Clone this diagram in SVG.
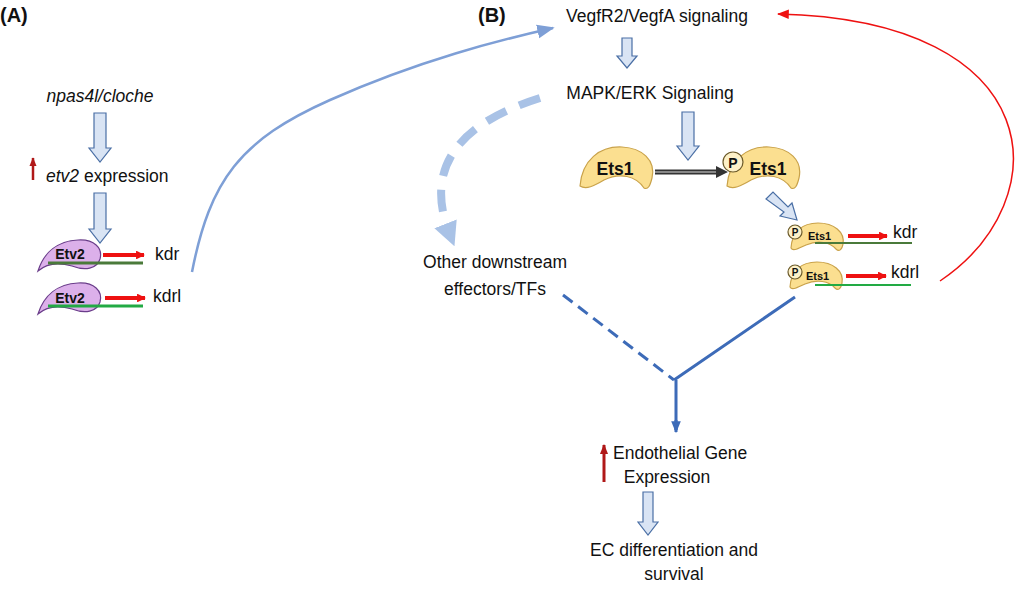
<svg xmlns="http://www.w3.org/2000/svg" width="1031" height="590" viewBox="0 0 1031 590">
<style>
text{font-family:"Liberation Sans",Arial,sans-serif;font-size:17.5px;fill:#111}
.b{font-weight:bold}
.blk{fill:#d9e4f4;stroke:#4a6fa5;stroke-width:1.2}
.etv{fill:#dcb0ea;stroke:#6a3d8a;stroke-width:1.2}
.ets{fill:#fbdf90;stroke:#c9a24a;stroke-width:1.2}
.pc{fill:#fdf1c8;stroke:#6b5a2a;stroke-width:1.2}
.red{stroke:#ee1111;stroke-width:4;marker-end:url(#rh)}
</style>
<defs>
<marker id="rh" viewBox="0 0 10 10" refX="9" refY="5" markerWidth="2.2" markerHeight="2.2" orient="auto"><path d="M0,0L10,5L0,10Z" fill="#ee1111"/></marker>
<marker id="bh" viewBox="0 0 10 10" refX="9" refY="5" markerWidth="7" markerHeight="7" orient="auto"><path d="M0,1L10,5L0,9Z" fill="#7e9fd6"/></marker>
<marker id="rl" viewBox="0 0 10 10" refX="9" refY="5" markerWidth="8" markerHeight="8" orient="auto"><path d="M0,1L10,5L0,9Z" fill="#ee1111"/></marker>
<marker id="dh" viewBox="0 0 10 10" refX="5" refY="5" markerWidth="3" markerHeight="3" orient="auto"><path d="M0,0L10,5L0,10Z" fill="#a9c2e6"/></marker>
<marker id="vh" viewBox="0 0 10 10" refX="9" refY="5" markerWidth="4" markerHeight="4" orient="auto"><path d="M0,1L10,5L0,9Z" fill="#3d6bb8"/></marker>
<marker id="uh" viewBox="0 0 10 10" refX="9" refY="5" markerWidth="3.5" markerHeight="3.5" orient="auto"><path d="M0,1L10,5L0,9Z" fill="#b01818"/></marker>
</defs>
<rect width="1031" height="590" fill="#fff"/>
<text x="0" y="22" class="b" style="font-size:20px">(A)</text>
<text x="478" y="22" class="b" style="font-size:20px">(B)</text>

<g id="connectors">
<path d="M192,272 C210,180 240,140 330,100 S500,40 553,28" fill="none" stroke="#7e9fd6" stroke-width="2.5" marker-end="url(#bh)"/>
<path d="M940,281 C1060,200 1050,20 778,14" fill="none" stroke="#ee1111" stroke-width="1.5" marker-end="url(#rl)"/>
<path d="M540,98 C470,120 420,160 450,235" fill="none" stroke="#a9c2e6" stroke-width="8" stroke-dasharray="22,14" marker-end="url(#dh)"/>
<path d="M563,295 L674,380" stroke="#3d6bb8" stroke-width="3" stroke-dasharray="12,7" fill="none"/>
<path d="M795,297 L674,380 M676,380 L676,430" stroke="#3d6bb8" stroke-width="3" fill="none"/>
<path d="M676,420 L676,432" stroke="#3d6bb8" stroke-width="3" marker-end="url(#vh)"/>
<path d="M33,180 L33,158" stroke="#b01818" stroke-width="2.5" marker-end="url(#uh)"/>
<path d="M604,482 L604,445" stroke="#b01818" stroke-width="3" marker-end="url(#uh)"/>
<path d="M655,172 H718" stroke="#333" stroke-width="5"/>
<path d="M655,172 H718" stroke="#888" stroke-width="2"/>
<path d="M716,166 L728,172 L716,178Z" fill="#333"/>
<path class="blk" d="M94,113 H106 V148 H111 L100,162 L89,148 H94Z"/>
<path class="blk" d="M94,193 H106 V229 H111 L100,243 L89,229 H94Z"/>
<path class="blk" d="M622,38 H632 V56 H637 L627,68 L617,56 H622Z"/>
<path class="blk" d="M682,112 H694 V146 H699 L688,160 L677,146 H682Z"/>
<path class="blk" d="M643,492 H653 V522 H658 L648,535 L638,522 H643Z"/>
<path class="blk" d="M766,199 L773,192 L788,207 L792,203 L797,220 L780,216 L784,212Z"/>
</g>

<g id="npas4l"><text x="100" y="102" text-anchor="middle" font-style="italic">npas4l/cloche</text></g>
<g id="etv2expr"><text x="46" y="182"><tspan font-style="italic">etv2</tspan> expression</text></g>

<g id="etv2-kdr">
<path class="etv" d="M38,271 C44,252 58,241 78,240 C94,239 103,248 100,259 C97,269 85,271 72,266 C58,262 46,264 38,271Z"/>
<line x1="48" y1="263" x2="143" y2="263" stroke="#4a7a3a" stroke-width="3"/>
<line x1="103" y1="255" x2="144" y2="255" class="red"/>
<text x="70" y="259" text-anchor="middle" class="b" style="font-size:14px">Etv2</text>
<text x="155" y="260">kdr</text>
</g>
<g id="etv2-kdrl">
<path class="etv" d="M38,314 C44,295 58,284 78,283 C94,282 103,291 100,302 C97,312 85,314 72,309 C58,305 46,307 38,314Z"/>
<line x1="48" y1="306" x2="143" y2="306" stroke="#22aa44" stroke-width="3"/>
<line x1="105" y1="298" x2="145" y2="298" class="red"/>
<text x="70" y="303" text-anchor="middle" class="b" style="font-size:14px">Etv2</text>
<text x="153" y="302">kdrl</text>
</g>

<g id="vegf"><text x="657" y="22" text-anchor="middle">VegfR2/VegfA signaling</text></g>
<g id="mapk"><text x="650" y="99" text-anchor="middle">MAPK/ERK Signaling</text></g>

<g id="ets1">
<path class="ets" d="M580,186 C582,160 600,146 622,147 C642,148 656,160 652,178 C650,186 648,190 644,188 C636,176 620,172 604,180 C594,186 586,190 580,186Z"/>
<text x="615" y="175" text-anchor="middle" class="b">Ets1</text>
</g>
<g id="pets1">
<path class="ets" d="M727,186 C729,160 747,146 769,147 C789,148 803,160 799,178 C797,186 795,190 791,188 C783,176 767,172 751,180 C741,186 733,190 727,186Z"/>
<circle class="pc" cx="733" cy="162" r="10"/>
<text x="733" y="168" text-anchor="middle" class="b" style="font-size:14px">P</text>
<text x="768" y="175" text-anchor="middle" class="b">Ets1</text>
</g>
<g id="pets1-kdr">
<path class="ets" d="M791,248 C792,232 802,223 818,223 C834,223 845,232 843,244 C842,250 839,252 836,249 C830,242 818,240 806,245 C799,248 793,252 791,248Z"/>
<line x1="815" y1="243" x2="912" y2="243" stroke="#4a7a3a" stroke-width="2"/>
<circle class="pc" cx="795" cy="232" r="7"/>
<text x="795" y="236" text-anchor="middle" class="b" style="font-size:10px">P</text>
<text x="808" y="240" class="b" style="font-size:11px">Ets1</text>
<line x1="848" y1="236" x2="887" y2="236" class="red"/>
<text x="893" y="238">kdr</text>
</g>
<g id="pets1-kdrl">
<path class="ets" d="M790,287 C791,271 801,262 817,262 C833,262 844,271 842,283 C841,289 838,291 835,288 C829,281 817,279 805,284 C798,287 792,291 790,287Z"/>
<line x1="815" y1="285" x2="911" y2="285" stroke="#22aa44" stroke-width="2"/>
<circle class="pc" cx="795" cy="272" r="7"/>
<text x="795" y="276" text-anchor="middle" class="b" style="font-size:10px">P</text>
<text x="806" y="280" class="b" style="font-size:11px">Ets1</text>
<line x1="846" y1="276" x2="886" y2="276" class="red"/>
<text x="891" y="278">kdrl</text>
</g>

<g id="other"><text x="495" y="268" text-anchor="middle">Other downstream</text><text x="495" y="295" text-anchor="middle">effectors/TFs</text></g>
<g id="endo"><text x="613" y="459">Endothelial Gene</text><text x="667" y="483" text-anchor="middle">Expression</text></g>
<g id="ec"><text x="674" y="556" text-anchor="middle">EC differentiation and</text><text x="674" y="580" text-anchor="middle">survival</text></g>
</svg>
